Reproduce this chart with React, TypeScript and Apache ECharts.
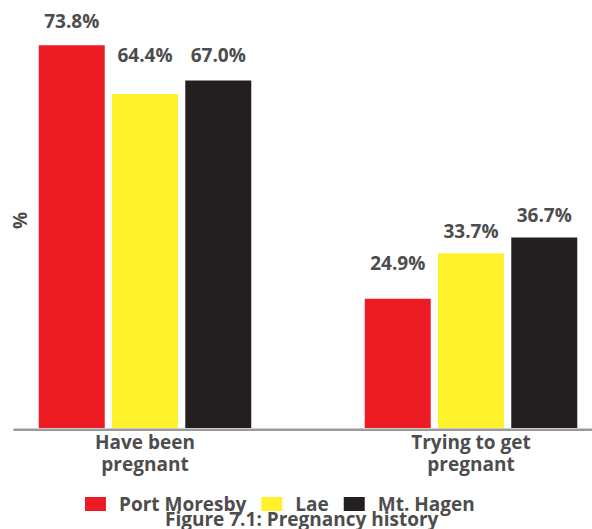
import React, { useEffect, useRef } from "react";
import * as echarts from "echarts";

const categories = ["Have been\npregnant", "Trying to get\npregnant"];
const seriesNames = ["Port Moresby", "Lae", "Mt. Hagen"];
const portMoresby = [73.8, 24.9];
const lae = [64.4, 33.7];
const mtHagen = [67.0, 36.7];
const colors = ["#ed1c24", "#fff22d", "#231f20"];
// label gap above each bar (style only)
const labelGaps = [
  [15, 26],
  [29, 13],
  [16, 13],
];

const FONT = "'Open Sans', 'Noto Sans', sans-serif";
const TXT = "#4d4d4d";
const SHIFT = 18;

export default function App() {
  const ref = useRef<HTMLDivElement>(null);
  useEffect(() => {
    document.body.style.margin = "0";
    const chart = echarts.init(ref.current!, null, { renderer: "svg" });
    const values = [portMoresby, lae, mtHagen];
    chart.setOption({
      animation: false,
      textStyle: { fontFamily: FONT },
      grid: { left: 0, right: 0, top: 13, bottom: 101 },
      legend: {
        left: 85 + SHIFT,
        top: 494.5,
        padding: 0,
        itemWidth: 21,
        itemHeight: 14,
        itemGap: 15,
        icon: "rect",
        textStyle: {
          fontFamily: FONT,
          fontWeight: "bold",
          fontSize: 19,
          lineHeight: 15,
          color: TXT,
          padding: [0, 0, 0, 8],
        },
        data: seriesNames,
      },
      title: {
        text: "Figure 7.1: Pregnancy history",
        left: 165 + SHIFT,
        top: 510,
        padding: 0,
        textStyle: { fontFamily: FONT, fontWeight: "bold", fontSize: 19, lineHeight: 17, color: TXT },
      },
      xAxis: {
        type: "category",
        data: categories,
        axisLine: { show: false },
        axisTick: { show: false },
        axisLabel: {
          margin: 3,
          fontFamily: FONT,
          fontWeight: "bold",
          fontSize: 19,
          lineHeight: 22,
          color: TXT,
        },
      },
      yAxis: {
        type: "value",
        min: 0,
        max: 80,
        axisLine: { show: false },
        axisTick: { show: false },
        axisLabel: { show: false },
        splitLine: { show: false },
        name: "%",
        nameLocation: "middle",
        nameRotate: 90,
        nameGap: -47,
        nameTextStyle: { fontFamily: FONT, fontWeight: "bold", fontSize: 19, lineHeight: 19, color: TXT },
      },
      graphic: [
        {
          type: "line",
          shape: { x1: 13.5 + SHIFT, y1: 429.7, x2: 592 + SHIFT, y2: 429.7 },
          style: { stroke: "#9a9a9a", lineWidth: 2.5 },
          z: 10,
        },
      ],
      series: seriesNames.map((name, i) => ({
        name,
        type: "bar",
        barWidth: 66,
        barGap: "11%",
        itemStyle: { color: colors[i] },
        data: values[i].map((v, j) => ({
          value: v,
          label: { distance: labelGaps[i][j] },
        })),
        label: {
          show: true,
          position: "top",
          formatter: (p: any) => p.value.toFixed(1) + "%",
          fontFamily: FONT,
          fontWeight: "bold",
          fontSize: 19,
          lineHeight: 19,
          color: TXT,
        },
      })),
    });
    return () => chart.dispose();
  }, []);
  return (
    <div style={{ position: "relative", width: 592, height: 529, overflow: "hidden" }}>
      <div ref={ref} style={{ position: "absolute", left: -SHIFT, top: 0, width: 652, height: 529 }} />
    </div>
  );
}
